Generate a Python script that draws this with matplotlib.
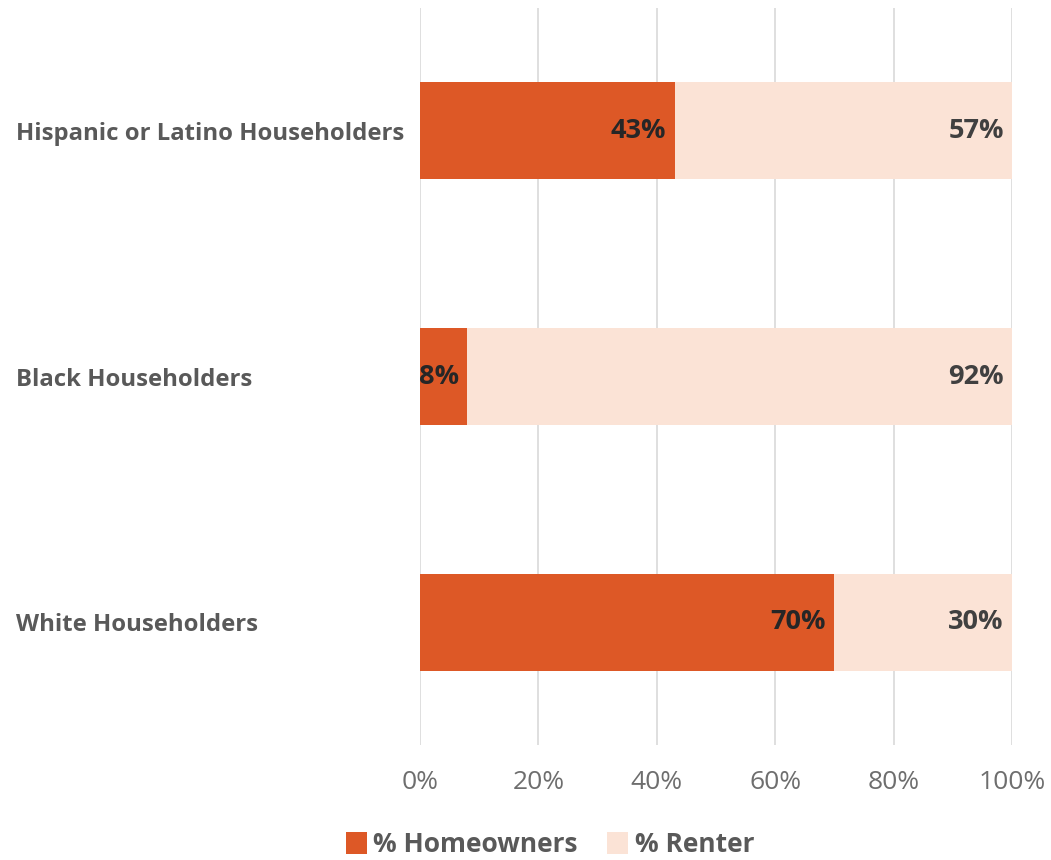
import matplotlib.pyplot as plt
from matplotlib.ticker import PercentFormatter

# Homeownership vs renting by householder race / ethnicity
groups = ["White Householders", "Black Householders", "Hispanic or Latino Householders"]
homeowners = [70, 8, 43]
renters = [30, 92, 57]

OWN_COLOR = "#DD5826"
RENT_COLOR = "#FBE3D6"
TEXT_GREY = "#595959"

plt.rcParams["font.family"] = ["Open Sans", "DejaVu Sans"]

fig = plt.figure(figsize=(10.51, 8.6), dpi=100)
ax = fig.add_axes([420 / 1051, 1 - 745 / 860, 592 / 1051, 737 / 860])

ypos = range(len(groups))
bar_h = 0.395
ax.barh(ypos, homeowners, height=bar_h, color=OWN_COLOR, label="% Homeowners", zorder=2)
ax.barh(ypos, renters, left=homeowners, height=bar_h, color=RENT_COLOR, label="% Renter", zorder=2)

# value labels sit just inside the right end of each segment
for y, own, rent in zip(ypos, homeowners, renters):
    ax.text(own - 1.4, y, f"{own}%", ha="right", va="center",
            fontsize=19.5, fontweight="bold", color="#262626", zorder=3)
    ax.text(own + rent - 1.4, y, f"{rent}%", ha="right", va="center",
            fontsize=19.5, fontweight="bold", color="#404040", zorder=3)

ax.set_xlim(0, 100)
ax.set_ylim(-0.5, 2.5)
ax.set_xticks([0, 20, 40, 60, 80, 100])
ax.xaxis.set_major_formatter(PercentFormatter(decimals=0))
ax.set_yticks(list(ypos))
ax.set_yticklabels(groups, fontsize=17.2, fontweight="bold", color=TEXT_GREY)
ax.tick_params(axis="y", length=0, pad=0)
ax.tick_params(axis="x", length=0, pad=18, labelsize=19, labelcolor="#6E6E6E")
for lbl in ax.get_yticklabels():
    lbl.set_horizontalalignment("left")
    lbl.set_x(-404 / 592)

ax.grid(axis="x", color="#D9D9D9", linewidth=1.2, zorder=0)
for s in ax.spines.values():
    s.set_visible(False)

leg = fig.legend(loc="center", bbox_to_anchor=(550 / 1051, 1 - 845 / 860), ncol=2,
                 frameon=False, handlelength=0.8, handleheight=0.9, handletextpad=0.25,
                 columnspacing=1.1, prop={"size": 19, "weight": "bold"})
for t in leg.get_texts():
    t.set_color(TEXT_GREY)

fig.savefig("out.png", dpi=100, facecolor="white")
